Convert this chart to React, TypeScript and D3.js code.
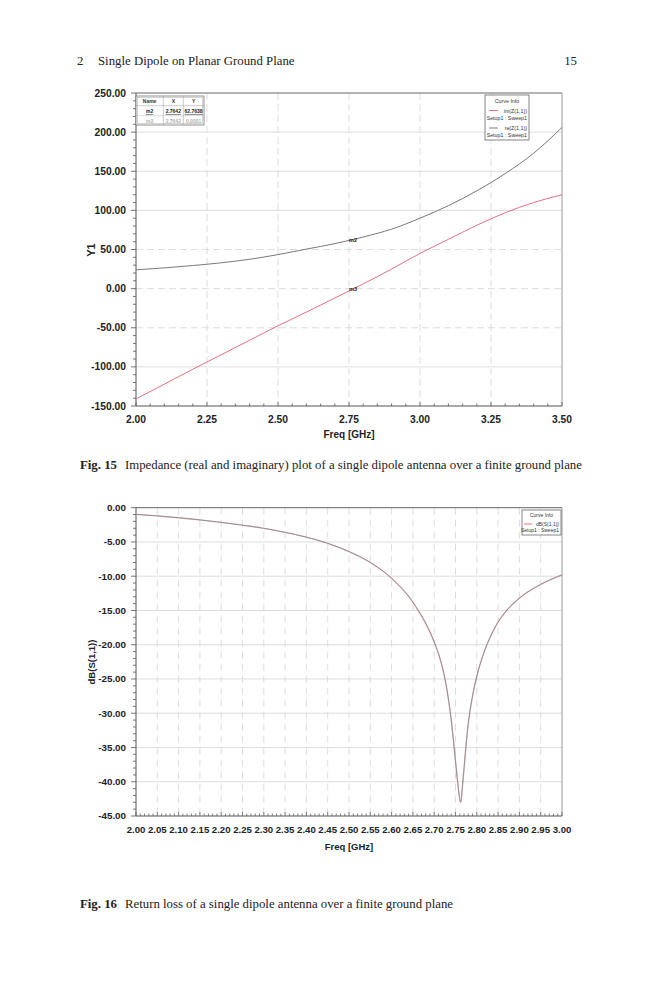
import React from "react";
import * as d3 from "d3";

// ---------- DATA ----------
const zFreq = [2.0, 2.1, 2.2, 2.3, 2.4, 2.5, 2.6, 2.7, 2.7642, 2.8, 2.9, 3.0, 3.1, 3.2, 3.3, 3.4, 3.5];
const reZ = [24, 26.5, 29.5, 33, 37.5, 43.5, 50.5, 57.5, 62.76, 66, 76, 90, 106, 125, 147, 173, 206];
const imZ = [-141, -122, -103, -84.5, -66, -47.5, -30, -12, -0.5, 6, 25, 45, 63, 81, 97, 110, 120];

const s11Freq = [2.0, 2.05, 2.1, 2.15, 2.2, 2.25, 2.3, 2.35, 2.4, 2.45, 2.5, 2.55, 2.6, 2.65, 2.7, 2.71, 2.72, 2.73, 2.74, 2.75, 2.755, 2.762, 2.768, 2.775, 2.78, 2.79, 2.8, 2.81, 2.82, 2.83, 2.84, 2.85, 2.87, 2.9, 2.95, 3.0];
const s11dB = [-0.97, -1.2, -1.46, -1.78, -2.14, -2.55, -3.01, -3.6, -4.3, -5.2, -6.4, -8.0, -10.3, -13.8, -19.6, -21.3, -23.5, -26.6, -31.0, -37.0, -40.0, -43.0, -39.5, -34.5, -31.5, -27.5, -24.6, -22.4, -20.6, -19.1, -17.8, -16.7, -15.0, -13.2, -11.2, -9.8];

const topXTicks = [2.0, 2.25, 2.5, 2.75, 3.0, 3.25, 3.5];
const topYTicks = [250, 200, 150, 100, 50, 0, -50, -100, -150];
const botXTicks = [2.0, 2.05, 2.1, 2.15, 2.2, 2.25, 2.3, 2.35, 2.4, 2.45, 2.5, 2.55, 2.6, 2.65, 2.7, 2.75, 2.8, 2.85, 2.9, 2.95, 3.0];
const botYTicks = [0, -5, -10, -15, -20, -25, -30, -35, -40, -45];

const markerRows = [
  { name: "m2", x: "2.7642", y: "62.7638" },
  { name: "m3", x: "2.7642", y: "0.0001" },
];
const markerFreq = 2.7642;

const topLegend = [
  { label: "im(Z(1,1))", color: "#e07282" },
  { label: "re(Z(1,1))", color: "#7a7a7a" },
];

// ---------- STYLES ----------
const SANS = "Arial, 'Liberation Sans', Helvetica, sans-serif";
const SERIF = "'Times New Roman', 'Liberation Serif', Times, serif";
const GRID = "#d4d4d4";
const AXIS = "#555";
const fmt2 = (v: number) => v.toFixed(2);

export default function App() {
  const xT = d3.scaleLinear().domain([2, 3.5]).range([136, 562]);
  const yT = d3.scaleLinear().domain([-150, 250]).range([406, 93]);
  const xB = d3.scaleLinear().domain([2, 3]).range([136, 562]);
  const yB = d3.scaleLinear().domain([-45, 0]).range([816, 507.7]);

  const lineT = (vals: number[]) =>
    d3
      .line<number>()
      .x((_, i) => xT(zFreq[i]))
      .y((d) => yT(d))
      .curve(d3.curveMonotoneX)(vals) || "";

  const lineB =
    d3
      .line<number>()
      .x((_, i) => xB(s11Freq[i]))
      .y((d) => yB(d))
      .curve(d3.curveMonotoneX)(s11dB) || "";

  const topMinorY = d3.range(-150, 251, 10);
  const topMinorX = d3.range(0, 31).map((i) => 2 + i * 0.05);
  const botMinorY = d3.range(-45, 1, 1);
  const botMinorX = d3.range(0, 101).map((i) => 2 + i * 0.01);

  return (
    <div style={{ position: "absolute", left: 0, top: 0 }}>
      <svg width={659} height={1000} style={{ display: "block", background: "#fff" }}>
        {/* page header */}
        <text x={77} y={65} fontFamily={SERIF} fontSize={12.8} fill="#222">2</text>
        <text x={98} y={65} fontFamily={SERIF} fontSize={12.8} fill="#222">
          Single Dipole on Planar Ground Plane
        </text>
        <text x={577} y={65} fontFamily={SERIF} fontSize={12.8} fill="#222" textAnchor="end">15</text>

        {/* ================= TOP CHART ================= */}
        <g>
          {topYTicks.slice(1, -1).map((t) => (
            <line key={"tgy" + t} x1={xT(2)} x2={xT(3.5)} y1={yT(t)} y2={yT(t)} stroke={GRID} strokeWidth={0.8}
              strokeDasharray={t === 50 || t === 0 || t === -50 ? "7,4" : undefined} />
          ))}
          {topXTicks.slice(1, -1).map((t) => (
            <line key={"tgx" + t} x1={xT(t)} x2={xT(t)} y1={yT(250)} y2={yT(-150)} stroke={GRID} strokeWidth={0.8}
              strokeDasharray="7,4" />
          ))}
          <line x1={xT(2)} x2={xT(3.5)} y1={yT(250)} y2={yT(250)} stroke="#666" strokeWidth={1} />
          <line x1={xT(3.5)} x2={xT(3.5)} y1={yT(250)} y2={yT(-150)} stroke="#999" strokeWidth={1} />
          <line x1={xT(2)} x2={xT(2)} y1={yT(250)} y2={yT(-150)} stroke={AXIS} strokeWidth={1} />
          <line x1={xT(2)} x2={xT(3.5)} y1={yT(-150)} y2={yT(-150)} stroke={AXIS} strokeWidth={1} />
          {topMinorY.map((t) => (
            <line key={"tmy" + t} x1={xT(2) - (t % 50 === 0 ? 5 : 3)} x2={xT(2)} y1={yT(t)} y2={yT(t)} stroke={AXIS} strokeWidth={0.8} />
          ))}
          {topYTicks.map((t) => (
            <text key={"tly" + t} x={126} y={yT(t) + 3.6} textAnchor="end" fontFamily={SANS} fontWeight="bold" fontSize={10.3} fill="#222">
              {fmt2(t)}
            </text>
          ))}
          {topMinorX.map((t, i) => (
            <line key={"tmx" + i} x1={xT(t)} x2={xT(t)} y1={yT(-150)} y2={yT(-150) - (i % 5 === 0 ? 4 : 2.5)} stroke={AXIS} strokeWidth={0.8} />
          ))}
          {topXTicks.map((t) => (
            <text key={"tlx" + t} x={xT(t)} y={423} textAnchor="middle" fontFamily={SANS} fontWeight="bold" fontSize={10.3} fill="#222">
              {fmt2(t)}
            </text>
          ))}
          <text x={349} y={438} textAnchor="middle" fontFamily={SANS} fontWeight="bold" fontSize={10} fill="#222">Freq [GHz]</text>
          <text transform={`translate(95,250) rotate(-90)`} textAnchor="middle" fontFamily={SANS} fontWeight="bold" fontSize={11} fill="#222">Y1</text>

          <path d={lineT(reZ)} fill="none" stroke="#7a7a7a" strokeWidth={1} />
          <path d={lineT(imZ)} fill="none" stroke="#e07282" strokeWidth={1} />

          <text x={xT(markerFreq)} y={yT(62.76) + 2} textAnchor="middle" fontFamily={SANS} fontWeight="bold" fontSize={5.5} fill="#222">m2</text>
          <text x={xT(markerFreq)} y={yT(-0.5) + 2} textAnchor="middle" fontFamily={SANS} fontWeight="bold" fontSize={5.5} fill="#222">m3</text>

          {/* marker table */}
          <g>
            <rect x={136} y={96} width={68} height={29} fill="#fff" stroke="#777" strokeWidth={0.8} />
            <rect x={137.5} y={97.5} width={65} height={26} fill="none" stroke="#aaa" strokeWidth={0.5} />
            <line x1={136} x2={204} y1={105.7} y2={105.7} stroke="#999" strokeWidth={0.5} />
            <line x1={136} x2={204} y1={115.7} y2={115.7} stroke="#bbb" strokeWidth={0.5} />
            <line x1={163.3} x2={163.3} y1={96} y2={125} stroke="#999" strokeWidth={0.5} />
            <line x1={183.3} x2={183.3} y1={96} y2={125} stroke="#999" strokeWidth={0.5} />
            {["Name", "X", "Y"].map((h, i) => (
              <text key={h} x={[149.6, 173.3, 193.6][i]} y={103} textAnchor="middle" fontFamily={SANS} fontWeight="bold" fontSize={5} fill="#333">{h}</text>
            ))}
            {markerRows.map((r, ri) => (
              <g key={r.name} fill={ri === 0 ? "#222" : "#b0b0b0"}>
                <text x={149.6} y={113 + ri * 9.5} textAnchor="middle" fontFamily={SANS} fontWeight="bold" fontSize={5} textDecoration={ri === 0 ? "underline" : undefined}>{r.name}</text>
                <text x={173.3} y={113 + ri * 9.5} textAnchor="middle" fontFamily={SANS} fontWeight="bold" fontSize={5} textDecoration={ri === 0 ? "underline" : undefined}>{r.x}</text>
                <text x={193.6} y={113 + ri * 9.5} textAnchor="middle" fontFamily={SANS} fontWeight="bold" fontSize={5} textDecoration={ri === 0 ? "underline" : undefined}>{r.y}</text>
              </g>
            ))}
          </g>

          {/* legend */}
          <g>
            <rect x={485} y={95} width={44} height={45} fill="#fff" stroke="#666" strokeWidth={0.8} />
            <text x={507} y={102.5} textAnchor="middle" fontFamily={SANS} fontSize={5.3} fill="#333">Curve Info</text>
            {topLegend.map((l, i) => (
              <g key={l.label}>
                <line x1={489} x2={498} y1={110.5 + i * 17.5} y2={110.5 + i * 17.5} stroke={l.color} strokeWidth={1} />
                <text x={527} y={112.5 + i * 17.5} textAnchor="end" fontFamily={SANS} fontSize={5.3} fill="#333">{l.label}</text>
                <text x={527} y={119.5 + i * 17.5} textAnchor="end" fontFamily={SANS} fontSize={5.3} fill="#333">Setup1 : Sweep1</text>
              </g>
            ))}
          </g>
        </g>

        <text x={80} y={469} fontFamily={SERIF} fontSize={12.8} fill="#222">
          <tspan fontWeight="bold">Fig. 15</tspan>
          <tspan dx={8}>Impedance (real and imaginary) plot of a single dipole antenna over a finite ground plane</tspan>
        </text>

        {/* ================= BOTTOM CHART ================= */}
        <g>
          {botYTicks.slice(1, -1).map((t) => (
            <line key={"bgy" + t} x1={xB(2)} x2={xB(3)} y1={yB(t)} y2={yB(t)} stroke={GRID} strokeWidth={0.8} />
          ))}
          {botXTicks.slice(1, -1).map((t, i) => (
            <line key={"bgx" + i} x1={xB(t)} x2={xB(t)} y1={yB(0)} y2={yB(-45)} stroke={GRID} strokeWidth={0.8} strokeDasharray="7,5" />
          ))}
          <line x1={xB(2)} x2={xB(3)} y1={yB(0)} y2={yB(0)} stroke="#666" strokeWidth={1} />
          <line x1={xB(3)} x2={xB(3)} y1={yB(0)} y2={yB(-45)} stroke="#999" strokeWidth={1} />
          <line x1={xB(2)} x2={xB(2)} y1={yB(0)} y2={yB(-45)} stroke={AXIS} strokeWidth={1} />
          <line x1={xB(2)} x2={xB(3)} y1={yB(-45)} y2={yB(-45)} stroke={AXIS} strokeWidth={1} />
          {botMinorY.map((t) => (
            <line key={"bmy" + t} x1={xB(2) - (t % 5 === 0 ? 5 : 3)} x2={xB(2)} y1={yB(t)} y2={yB(t)} stroke={AXIS} strokeWidth={0.8} />
          ))}
          {botYTicks.map((t) => (
            <text key={"bly" + t} x={126} y={yB(t) + 3.4} textAnchor="end" fontFamily={SANS} fontWeight="bold" fontSize={9.8} fill="#222">
              {fmt2(t)}
            </text>
          ))}
          {botMinorX.map((t, i) => (
            <line key={"bmx" + i} x1={xB(t)} x2={xB(t)} y1={yB(-45)} y2={yB(-45) - (i % 5 === 0 ? 4 : 2.5)} stroke={AXIS} strokeWidth={0.7} />
          ))}
          {botXTicks.map((t, i) => (
            <text key={"blx" + i} x={xB(t)} y={833} textAnchor="middle" fontFamily={SANS} fontWeight="bold" fontSize={9.6} fill="#222">
              {fmt2(t)}
            </text>
          ))}
          <text x={349} y={850} textAnchor="middle" fontFamily={SANS} fontWeight="bold" fontSize={9.5} fill="#222">Freq [GHz]</text>
          <text transform={`translate(95,662) rotate(-90)`} textAnchor="middle" fontFamily={SANS} fontWeight="bold" fontSize={9.5} fill="#222">dB(S(1,1))</text>

          <path d={lineB} fill="none" stroke="#e8909c" strokeWidth={1.4} opacity={0.6} />
          <path d={lineB} fill="none" stroke="#8a8a8a" strokeWidth={0.9} />

          <g>
            <rect x={522} y={510} width={39} height={25} fill="#fff" stroke="#666" strokeWidth={0.8} />
            <text x={541.5} y={517} textAnchor="middle" fontFamily={SANS} fontSize={5} fill="#333">Curve Info</text>
            <line x1={524} x2={532} y1={524} y2={524} stroke="#e07282" strokeWidth={1} />
            <text x={559} y={526} textAnchor="end" fontFamily={SANS} fontSize={5} fill="#333">dB(S(1,1))</text>
            <text x={559} y={532} textAnchor="end" fontFamily={SANS} fontSize={5} fill="#333">Setup1 : Sweep1</text>
          </g>
        </g>

        <text x={80} y={908} fontFamily={SERIF} fontSize={12.8} fill="#222">
          <tspan fontWeight="bold">Fig. 16</tspan>
          <tspan dx={8}>Return loss of a single dipole antenna over a finite ground plane</tspan>
        </text>
      </svg>
    </div>
  );
}
